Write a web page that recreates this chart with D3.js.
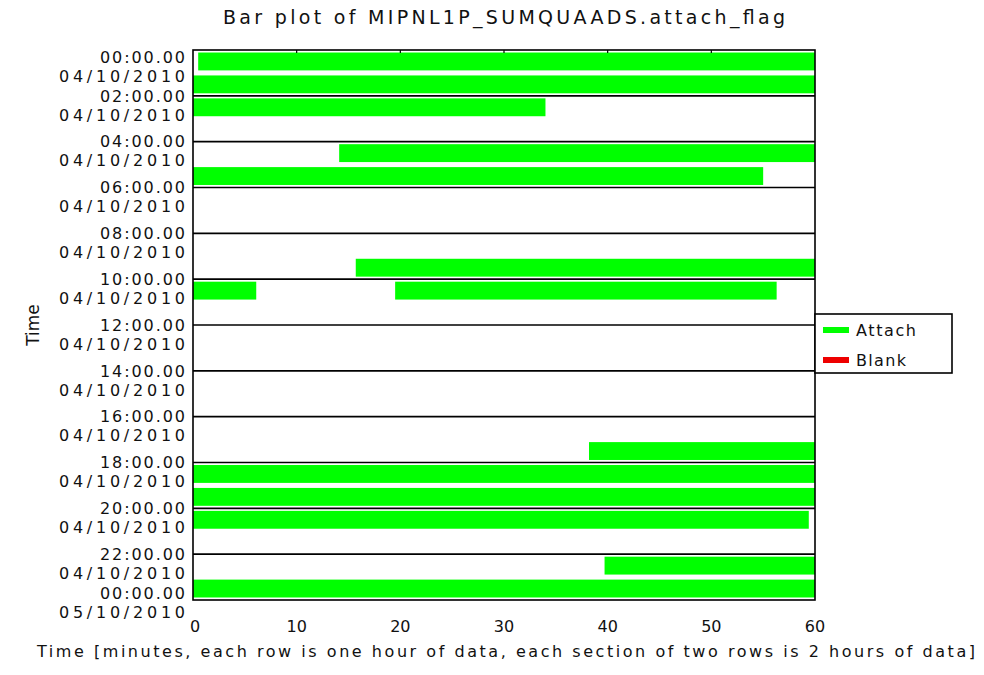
<!DOCTYPE html>
<html>
<head>
<meta charset="utf-8">
<script src="https://cdn.jsdelivr.net/npm/d3@7"></script>
<style>
  body { margin: 0; background: #fff; }
  text { font-family: "DejaVu Sans", sans-serif; fill: #111; }
</style>
</head>
<body>
<div id="chart"></div>
<script>
// tick labels on the time axis (one every 2 hours)
const tickHours = [0, 2, 4, 6, 8, 10, 12, 14, 16, 18, 20, 22, 24];
const tickTimes = ["00:00.00", "02:00.00", "04:00.00", "06:00.00", "08:00.00", "10:00.00",
  "12:00.00", "14:00.00", "16:00.00", "18:00.00", "20:00.00", "22:00.00", "00:00.00"];
const tickDates = ["04/10/2010", "04/10/2010", "04/10/2010", "04/10/2010", "04/10/2010", "04/10/2010",
  "04/10/2010", "04/10/2010", "04/10/2010", "04/10/2010", "04/10/2010", "04/10/2010", "05/10/2010"];
const minuteTicks = [0, 10, 20, 30, 40, 50, 60];

// attach_flag segments: row = hour of day, start/end in minutes
const attachRow = [0, 1, 2, 4, 5, 9, 10, 10, 17, 18, 19, 20, 22, 23];
const attachStart = [0.5, 0, 0, 14.1, 0, 15.7, 0, 19.5, 38.2, 0, 0, 0, 39.7, 0];
const attachEnd = [60, 60, 34.0, 60, 55.0, 60, 6.1, 56.3, 60, 60, 60, 59.4, 60, 60];

const legendNames = ["Attach", "Blank"];
const legendColors = ["#00ff00", "#ee0000"];

const width = 984;
const height = 675;
const plotLeft = 193, plotRight = 815, plotTop = 50, plotBottom = 600;

const svg = d3.select("#chart")
  .append("svg")
  .attr("width", width)
  .attr("height", height);

const x = d3.scaleLinear().domain([0, 60]).range([plotLeft, plotRight]);
const y = d3.scaleLinear().domain([0, 24]).range([plotTop, plotBottom]);

// bars
const segments = attachRow.map((r, i) => ({ row: r, start: attachStart[i], end: attachEnd[i] }));
svg.append("g")
  .selectAll("rect")
  .data(segments)
  .enter()
  .append("rect")
  .attr("x", (d) => x(d.start))
  .attr("y", (d) => y(d.row + 0.11))
  .attr("width", (d) => x(d.end) - x(d.start))
  .attr("height", (d) => y(d.row + 0.89) - y(d.row + 0.11))
  .attr("fill", "#00ff00");

// section separators, every 2 hours
svg.append("g")
  .selectAll("line")
  .data(tickHours.slice(1, -1))
  .enter()
  .append("line")
  .attr("x1", plotLeft)
  .attr("x2", plotRight)
  .attr("y1", (d) => y(d))
  .attr("y2", (d) => y(d))
  .attr("stroke", "#000")
  .attr("stroke-width", 1.6);

// frame
svg.append("rect")
  .attr("x", plotLeft)
  .attr("y", plotTop)
  .attr("width", plotRight - plotLeft)
  .attr("height", plotBottom - plotTop)
  .attr("fill", "none")
  .attr("stroke", "#000")
  .attr("stroke-width", 1.6);

// top minute ticks
svg.append("g")
  .selectAll("line")
  .data(minuteTicks.slice(1, -1))
  .enter()
  .append("line")
  .attr("x1", (d) => x(d))
  .attr("x2", (d) => x(d))
  .attr("y1", plotTop)
  .attr("y2", plotTop + 3)
  .attr("stroke", "#000")
  .attr("stroke-width", 1.2);

// y tick labels: time + date
const yLabels = svg.append("g");
tickHours.forEach((h, i) => {
  const ty = Math.min(Math.max(y(h), plotTop + 7), plotBottom - 7);
  yLabels.append("text")
    .attr("x", 185)
    .attr("y", ty)
    .attr("dy", "0.36em")
    .attr("text-anchor", "end")
    .attr("font-size", 16)
    .attr("textLength", 85)
    .attr("lengthAdjust", "spacing")
    .text(tickTimes[i]);
  yLabels.append("text")
    .attr("x", 185)
    .attr("y", ty + 19)
    .attr("dy", "0.36em")
    .attr("text-anchor", "end")
    .attr("font-size", 16)
    .attr("textLength", 126)
    .attr("lengthAdjust", "spacing")
    .text(tickDates[i]);
});

// x tick labels
svg.append("g")
  .selectAll("text")
  .data(minuteTicks)
  .enter()
  .append("text")
  .attr("x", (d) => x(d) + (d === 0 ? 2 : 0))
  .attr("y", 626)
  .attr("dy", "0.36em")
  .attr("text-anchor", "middle")
  .attr("font-size", 16)
  .text((d) => d);

// titles
svg.append("text")
  .attr("x", 504)
  .attr("y", 24)
  .attr("text-anchor", "middle")
  .attr("font-size", 19)
  .attr("textLength", 562)
  .attr("lengthAdjust", "spacing")
  .text("Bar plot of MIPNL1P_SUMQUAADS.attach_flag");

svg.append("text")
  .attr("x", 506)
  .attr("y", 651)
  .attr("dy", "0.36em")
  .attr("text-anchor", "middle")
  .attr("font-size", 16)
  .attr("textLength", 938)
  .attr("lengthAdjust", "spacing")
  .text("Time [minutes, each row is one hour of data, each section of two rows is 2 hours of data]");

svg.append("text")
  .attr("transform", "translate(33,325) rotate(-90)")
  .attr("dy", "0.36em")
  .attr("text-anchor", "middle")
  .attr("font-size", 17)
  .text("Time");

// legend
const legend = svg.append("g");
legend.append("rect")
  .attr("x", 815)
  .attr("y", 314)
  .attr("width", 137)
  .attr("height", 59)
  .attr("fill", "#fff")
  .attr("stroke", "#000")
  .attr("stroke-width", 1.6);
legendNames.forEach((name, i) => {
  const ly = 330 + i * 30;
  legend.append("line")
    .attr("x1", 823)
    .attr("x2", 849)
    .attr("y1", ly)
    .attr("y2", ly)
    .attr("stroke", legendColors[i])
    .attr("stroke-width", 6);
  legend.append("text")
    .attr("x", 856)
    .attr("y", ly)
    .attr("dy", "0.36em")
    .attr("font-size", 16)
    .attr("textLength", name.length * 10)
    .attr("lengthAdjust", "spacing")
    .text(name);
});
</script>
</body>
</html>
